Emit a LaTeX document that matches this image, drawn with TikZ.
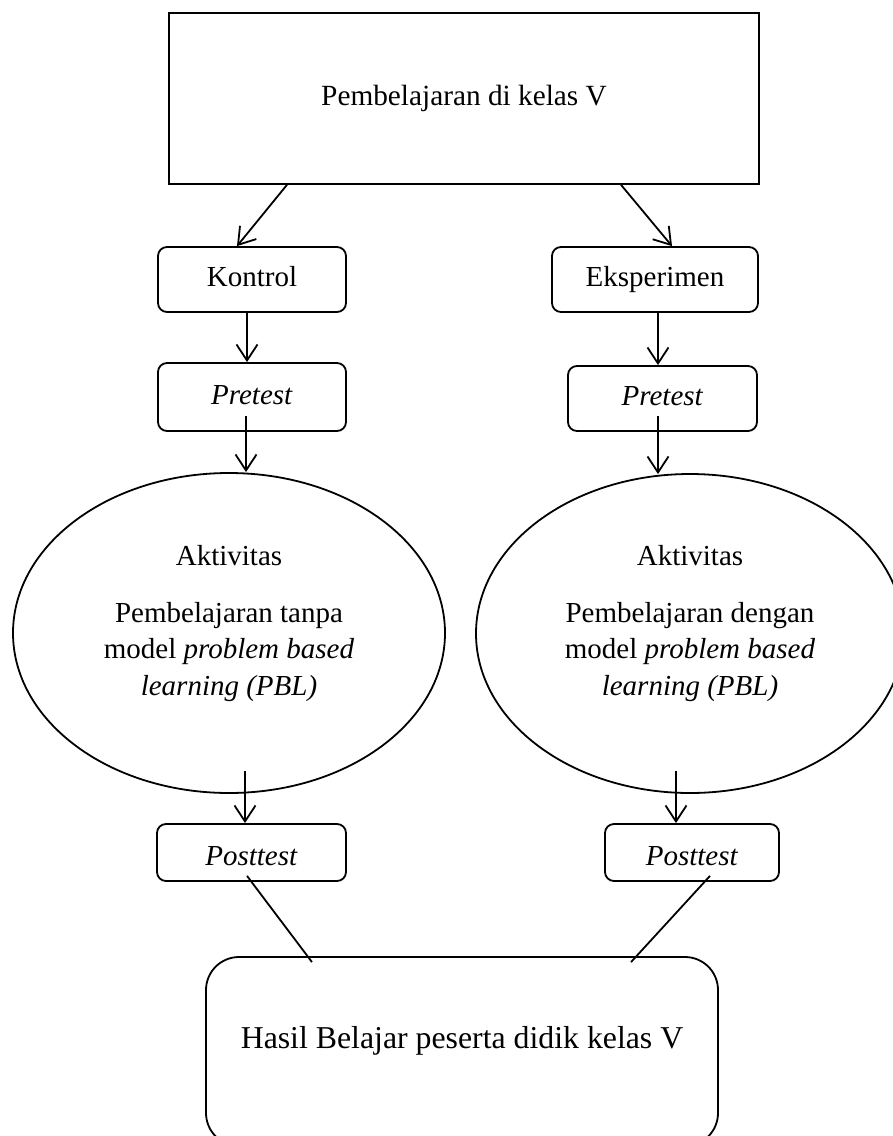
\documentclass[tikz,border=0pt]{standalone}
\usepackage{fontspec}
\setmainfont{Liberation Serif}
\usetikzlibrary{arrows.meta,shapes.geometric,calc}
\tikzset{
  box/.style={draw, line width=1.8pt, inner sep=0pt, rounded corners=9pt,
    font=\fontsize{29}{35}\selectfont, text height=20pt, text depth=6pt},
  topbox/.style={draw, line width=1.8pt, inner sep=0pt,
    font=\fontsize{29.3}{35}\selectfont, text height=20pt, text depth=6pt},
  postbox/.style={box, text height=25pt, text depth=0pt},
  endbox/.style={draw, line width=1.8pt, inner sep=0pt, rounded corners=33pt,
    font=\fontsize{31.8}{38}\selectfont, text height=22pt, text depth=29pt},
  actell/.style={draw, ellipse, line width=1.8pt, inner sep=0pt},
  acttxt/.style={align=center, inner sep=0pt, anchor=north,
    font=\fontsize{29}{36.5}\selectfont},
  arr/.style={line width=1.8pt, -{Straight Barb[length=16pt,width=21pt,line width=1.8pt]}},
  ln/.style={line width=1.8pt}
}
\begin{document}
\begin{tikzpicture}[x=1pt,y=-1pt]
\useasboundingbox (0,0) rectangle (893,1136);
\clip (0,0) rectangle (893,1136);

\node[topbox, minimum width=590pt, minimum height=171pt] (top) at (464,98.4) {Pembelajaran di kelas V};

\node[box, minimum width=188pt, minimum height=65pt] (kon) at (252,279.5) {Kontrol};
\node[box, minimum width=206pt, minimum height=65pt] (eks) at (655,279.5) {Eksperimen};

\node[box, minimum width=188pt, minimum height=68pt] (preL) at (252,397) {\textit{Pretest}};
\node[box, minimum width=189pt, minimum height=65pt] (preR) at (662.5,398.5) {\textit{Pretest}};

\node[actell, minimum width=432pt, minimum height=320pt] (actL) at (229,633) {};
\node[actell, minimum width=428pt, minimum height=319pt] (actR) at (690,633.5) {};
\node[acttxt] (actLt) at (229,545) {Aktivitas\\[20.5pt]Pembelajaran tanpa\\model \textit{problem based}\\\textit{learning (PBL)}};
\node[acttxt] (actRt) at (690,545) {Aktivitas\\[20.5pt]Pembelajaran dengan\\model \textit{problem based}\\\textit{learning (PBL)}};

\node[postbox, minimum width=189pt, minimum height=57pt] (postL) at (251.5,852.5) {\textit{Posttest}};
\node[postbox, minimum width=174pt, minimum height=57pt] (postR) at (692,852.5) {\textit{Posttest}};

\node[endbox, minimum width=512pt, minimum height=189pt] (res) at (462,1051.5) {Hasil Belajar peserta didik kelas V};

% connectors
\draw[arr] ([xshift=-177pt]top.south) -- ([xshift=-15pt]kon.north);
\draw[arr] ([xshift=157pt]top.south) -- ([xshift=17pt]eks.north);
\draw[arr] ([xshift=-5pt]kon.south) -- ([xshift=-5pt]preL.north);
\draw[arr] ([xshift=3pt]eks.south) -- ([xshift=-4.5pt]preR.north);
\draw[arr] ([xshift=-6pt,yshift=16pt]preL.south) coordinate (aL) -- (aL |- actL.north);
\draw[arr] ([xshift=-4.5pt,yshift=16pt]preR.south) coordinate (aR) -- ([yshift=-1pt]aR |- actR.north);
\draw[arr] ([xshift=-6.5pt,yshift=52pt]postL.north) -- ([xshift=-6.5pt]postL.north);
\draw[arr] ([xshift=-16pt,yshift=52pt]postR.north) -- ([xshift=-16pt]postR.north);
\draw[ln] ([xshift=-4.5pt,yshift=6pt]postL.south) -- ([xshift=-150pt,yshift=-6pt]res.north);
\draw[ln] ([xshift=18pt,yshift=6pt]postR.south) -- ([xshift=169pt,yshift=-6pt]res.north);
\end{tikzpicture}
\end{document}
